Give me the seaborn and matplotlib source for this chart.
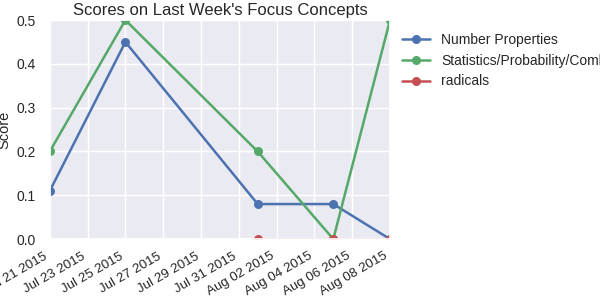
import matplotlib
matplotlib.use("Agg")
import matplotlib.pyplot as plt
import matplotlib.dates as mdates
import seaborn as sns
import pandas as pd

dates = ["2015-07-21", "2015-07-25", "2015-08-01", "2015-08-05", "2015-08-08"]
number_properties = [0.11, 0.45, 0.08, 0.08, 0.0]
statistics = [0.2, 0.5, 0.2, 0.0, 0.5]
radical_dates = ["2015-08-01", "2015-08-05", "2015-08-08"]
radicals = [0.0, 0.0, 0.0]
names = ["Number Properties", "Statistics/Probability/Combinatorics", "radicals"]
title = "Scores on Last Week's Focus Concepts"

sns.set_theme(style="darkgrid")
plt.rcParams['font.family'] = ['Liberation Sans', 'DejaVu Sans']
colors = ["#4C72B0", "#55A868", "#C44E52"]

fig = plt.figure(figsize=(6, 3), dpi=100)
ax = fig.add_axes([0.083, 0.203, 0.567, 0.730])

series = [(dates, number_properties), (dates, statistics), (radical_dates, radicals)]
for (d, v), name, c in zip(series, names, colors):
    sns.lineplot(x=pd.to_datetime(d), y=v, ax=ax, marker='o', markersize=6.5,
                 markeredgewidth=0, linewidth=1.8, color=c, label=name)

ax.set_xlim(pd.Timestamp("2015-07-21"), pd.Timestamp("2015-08-08"))
ax.set_ylim(0, 0.5)
ax.set_yticks([0.0, 0.1, 0.2, 0.3, 0.4, 0.5])
ax.xaxis.set_major_locator(mdates.DayLocator(interval=2))
ax.xaxis.set_major_formatter(mdates.DateFormatter("%b %d %Y"))
for lbl in ax.get_xticklabels():
    lbl.set_rotation(30)
    lbl.set_ha('right')
    lbl.set_fontsize(9.6)
ax.tick_params(axis='y', labelsize=10, colors="#262626", pad=4)
ax.tick_params(axis='x', colors="#262626", pad=2)
ax.set_xlabel("")
ax.set_ylabel("Score", fontsize=10.5, color="#262626", labelpad=4)
ax.set_title(title, fontsize=12, color="#262626", pad=4)
ax.legend(loc='upper left', bbox_to_anchor=(1.0, 1.0), frameon=False, fontsize=10)

fig.savefig("out.png", dpi=100)
